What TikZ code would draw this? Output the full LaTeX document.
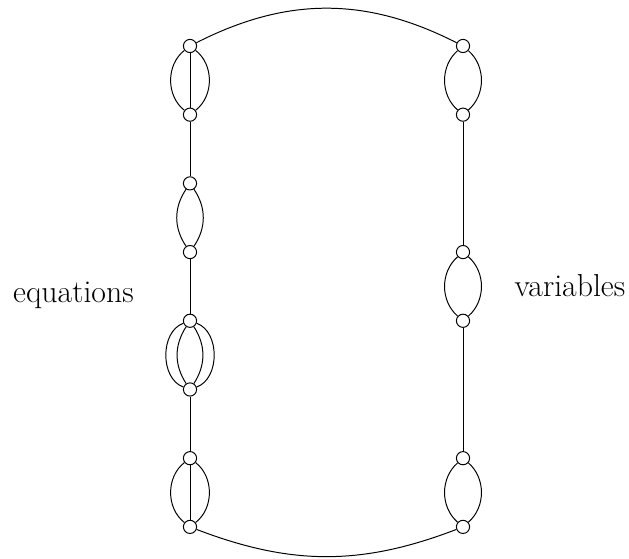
\documentclass[tikz,border=0pt]{standalone}
\usepackage{tikz}

\begin{document}
\begin{tikzpicture}[line width=0.7pt]
  \tikzset{
    vtx/.style={circle, draw, fill=white, inner sep=0pt, minimum size=0.33cm},
    lbl/.style={anchor=base, font=\fontsize{22.6}{26}\selectfont}
  }
  \useasboundingbox (0,0) rectangle (15.725,13.975);

  % equation nodes (left) and variable nodes (right)
  \foreach \i in {1,...,8}
    \node[vtx] (e\i) at (4.75, 14.5425-1.7175*\i) {};
  \foreach \i in {1,2,4,5,7,8}
    \node[vtx] (v\i) at (11.575, 14.5425-1.7175*\i) {};

  \node[lbl] (eqlabel) at (1.835, 6.4) {equations};
  \node[lbl] (varlabel) at (14.25, 6.55) {variables};

  % left column
  \draw (e1) -- (e2);
  \draw (e1) to[bend right=52] (e2);
  \draw (e1) to[bend left=52] (e2);
  \draw (e2) -- (e3);
  \draw (e3) to[bend right=34] (e4);
  \draw (e3) to[bend left=34] (e4);
  \draw (e4) -- (e5);
  \draw (e5) to[bend right=70] (e6);
  \draw (e5) to[bend left=70] (e6);
  \draw (e5) to[bend right=33] (e6);
  \draw (e5) to[bend left=33] (e6);
  \draw (e6) -- (e7);
  \draw (e7) -- (e8);
  \draw (e7) to[bend right=52] (e8);
  \draw (e7) to[bend left=52] (e8);

  % right column
  \draw (v1) to[bend right=49] (v2);
  \draw (v1) to[bend left=49] (v2);
  \draw (v2) -- (v4);
  \draw (v4) to[bend right=49] (v5);
  \draw (v4) to[bend left=49] (v5);
  \draw (v5) -- (v7);
  \draw (v7) to[bend right=49] (v8);
  \draw (v7) to[bend left=49] (v8);

  % closing arcs
  \draw (e1) to[bend left=27] (v1);
  \draw (e8) to[bend right=21] (v8);
\end{tikzpicture}
\end{document}
